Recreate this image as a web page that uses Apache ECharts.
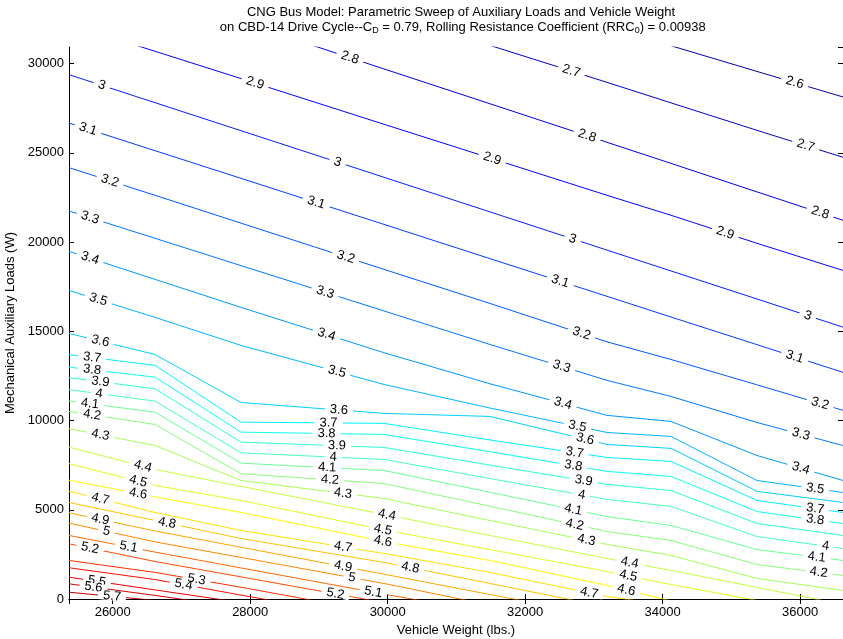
<!DOCTYPE html>
<html lang="en">
<head>
<meta charset="UTF-8">
<title>CNG Bus Model - contour</title>
<style>
    html, body { margin: 0; padding: 0; background: #fff; }
    #chart { width: 843px; height: 639px; }
</style>
</head>
<body>
<div id="chart"></div>
<script src="https://cdn.jsdelivr.net/npm/echarts@6/dist/echarts.min.js"></script>
<script>
    // vehicle weights (lbs) of the grid columns, the contours bend on them
    var weights = [25364, 26615, 27866, 29946, 31488, 33190, 34121, 35372, 36623];

    // contour levels (fuel economy)
    var levels = [2.6, 2.7, 2.8, 2.9, 3, 3.1, 3.2, 3.3, 3.4, 3.5, 3.6, 3.7, 3.8, 3.9, 4,
                  4.1, 4.2, 4.3, 4.4, 4.5, 4.6, 4.7, 4.8, 4.9, 5, 5.1, 5.2, 5.3, 5.4, 5.5, 5.6, 5.7];

    // aux load (W) where each level crosses each weight column
    var levelLoads = [
        [41060, 39600, 38200, 35790, 34020, 32070, 31000, 29560, 28130],
        [38480, 36970, 35440, 32900, 31020, 28950, 27800, 26260, 24750],
        [35510, 33940, 32350, 29700, 27750, 25590, 24410, 22810, 21220],
        [32220, 30690, 29160, 26600, 24710, 22620, 21500, 19930, 18410],
        [29380, 27810, 26240, 23630, 21690, 19550, 18380, 16810, 15230],
        [26670, 25120, 23570, 20990, 19070, 16960, 15800, 14250, 12700],
        [24170, 22620, 21060, 18470, 16560, 14410, 13420, 12000, 10570],
        [21740, 20210, 18680, 16140, 14260, 12250, 11350, 9890, 8600],
        [19480, 17910, 16340, 13800, 12060, 10290, 9950, 8040, 6640],
        [17290, 15780, 14210, 12020, 10700, 9330, 9110, 6640, 5970],
        [14880, 13700, 11010, 10400, 10230, 8660, 8440, 6030, 5410],
        [13690, 13090, 9910, 9840, 8910, 7930, 7710, 5520, 4850],
        [12990, 12430, 9350, 9220, 8250, 7150, 6870, 4900, 4230],
        [12400, 11780, 8790, 8490, 7500, 6420, 6080, 4230, 3560],
        [11730, 11090, 8190, 7820, 6750, 5580, 5190, 3500, 2830],
        [11090, 10470, 7610, 7200, 5980, 4620, 4120, 2770, 2160],
        [10510, 9780, 7020, 6470, 5200, 3780, 3280, 1930, 1320],
        [9540, 8600, 6640, 5630, 4400, 3060, 2440, 1150, 480],
        [8510, 7260, 6310, 4740, 3560, 2270, 1600, 650, -310],
        [7580, 6360, 5520, 3870, 2770, 1540, 810, -80, -1040],
        [6660, 5720, 4850, 3220, 2160, 760, -110, -980, -1880],
        [6040, 4850, 3840, 2550, 1490, 140, -360, -1210, -2100],
        [5410, 4400, 3390, 2050, 870, -450, -1210, -2160, -3110],
        [4830, 3810, 2900, 1390, 250, -980, -1770, -2720, -3670],
        [4250, 3200, 2330, 870, -340, -1650, null, null, null],
        [3560, 2630, 1740, 270, -760, null, null, null, null],
        [3090, 2100, 1240, -200, null, null, null, null, null],
        [2160, 1490, 660, -810, null, null, null, null, null],
        [1750, 1090, 220, -1210, null, null, null, null, null],
        [1220, 510, -200, null, null, null, null, null, null],
        [850, 200, -480, null, null, null, null, null, null],
        [380, -80, null, null, null, null, null, null, null]
    ];

    // weights where the inline level labels sit
    var labelWeights = [
        [35920],
        [32670, 36080],
        [29450, 32900, 36290],
        [28070, 31520, 34910],
        [25840, 29270, 32690, 36110],
        [25640, 28960, 32510, 35920],
        [25960, 29390, 32820, 36290],
        [25670, 29090, 32530, 36010],
        [25670, 29110, 32550, 36010],
        [25790, 29260, 32760, 36220],
        [25820, 29290, 32870],
        [25700, 29140, 32720, 36220],
        [25700, 29110, 32700, 36220],
        [25820, 29260, 32850],
        [25800, 29210, 32820, 36370],
        [25670, 29120, 32700, 36240],
        [25700, 29160, 32720, 36270],
        [25820, 29350, 32890],
        [26440, 29990, 33520],
        [26370, 29930, 33500],
        [26370, 29930, 33470],
        [25820, 29350, 32930],
        [26790, 30330],
        [25820, 29350],
        [25910, 29480],
        [26230, 29790],
        [25670, 29240],
        [27220],
        [27030],
        [25770],
        [25720],
        [25990]
    ];

    var FONT = '"Liberation Sans", Arial, Helvetica, sans-serif';

    // jet colormap
    function jet(level) {
        var t = 0.625 + (level - 4.6) * 0.294;
        function c(v) { return Math.round(255 * Math.max(0, Math.min(1, v))); }
        var r = c(1.5 - Math.abs(4 * t - 3));
        var g = c(1.5 - Math.abs(4 * t - 2));
        var b = c(1.5 - Math.abs(4 * t - 1));
        return 'rgb(' + r + ',' + g + ',' + b + ')';
    }

    function segIndex(w) {
        for (var k = 0; k < weights.length - 2; k++) {
            if (w <= weights[k + 1]) return k;
        }
        return weights.length - 2;
    }

    function loadAt(row, w) {
        var k = segIndex(w);
        var a = row[k], b = row[k + 1];
        return a + (b - a) * (w - weights[k]) / (weights[k + 1] - weights[k]);
    }

    var series = [];
    levels.forEach(function (lv, i) {
        var pts = [];
        for (var k = 0; k < weights.length; k++) {
            if (levelLoads[i][k] == null) break;
            pts.push([weights[k], levelLoads[i][k]]);
        }
        series.push({
            type: 'line',
            data: pts,
            symbol: 'none',
            silent: true,
            clip: true,
            lineStyle: { color: jet(lv), width: 1 },
            z: 2
        });
    });

    var labelData = [];
    levels.forEach(function (lv, i) {
        labelWeights[i].forEach(function (w) {
            labelData.push([w, loadAt(levelLoads[i], w), i]);
        });
    });

    // inline labels: white box cuts a gap in their own line
    series.push({
        type: 'custom',
        data: labelData,
        silent: true,
        z: 10,
        encode: { x: 0, y: 1 },
        renderItem: function (params, api) {
            var i = api.value(2);
            var w = api.value(0);
            var p = api.coord([w, api.value(1)]);
            var k = segIndex(w);
            var a = api.coord([weights[k], levelLoads[i][k]]);
            var b = api.coord([weights[k + 1], levelLoads[i][k + 1]]);
            var ang = Math.atan2(b[1] - a[1], b[0] - a[0]);
            return {
                type: 'text',
                x: p[0],
                y: p[1],
                rotation: -ang,
                style: {
                    text: String(levels[i]),
                    fill: '#000',
                    font: '13px ' + FONT,
                    lineHeight: 8,
                    align: 'center',
                    verticalAlign: 'middle',
                    backgroundColor: '#fff',
                    padding: [0, 5]
                }
            };
        }
    });

    var axisCommon = {
        type: 'value',
        axisLine: { show: true, lineStyle: { color: '#000', width: 1 } },
        axisTick: { show: true, inside: true, length: 5, lineStyle: { color: '#000' } },
        splitLine: { show: false }
    };

    var chart = echarts.init(document.getElementById('chart'));
    var option = {
        animation: false,
        backgroundColor: '#fff',
        title: {
            left: 456,
            top: 0,
            textAlign: 'center',
            text: '{n|CNG Bus Model: Parametric Sweep of Auxiliary Loads and Vehicle Weight}\n' +
                  '{n| on CBD-14 Drive Cycle--C}{s|D}{n| = 0.79, Rolling Resistance Coefficient (RRC}{s|0}{n|) = 0.00938}',
            textStyle: {
                fontWeight: 'normal',
                rich: {
                    n: { fontSize: 13, fontFamily: FONT, fontWeight: 'normal', color: '#000', lineHeight: 15 },
                    s: { fontSize: 9, fontFamily: FONT, fontWeight: 'normal', color: '#000', lineHeight: 9, verticalAlign: 'bottom' }
                }
            }
        },
        grid: { left: 69, right: 0, top: 47, bottom: 40, containLabel: false, outerBoundsMode: 'none' },
        xAxis: [
            Object.assign({}, axisCommon, {
                position: 'bottom',
                min: 25364,
                max: 36623,
                name: 'Vehicle Weight (lbs.)',
                nameLocation: 'middle',
                nameGap: 22,
                nameTextStyle: { color: '#000', fontSize: 13, fontFamily: FONT },
                axisLabel: {
                    color: '#000', fontSize: 13, fontFamily: FONT, margin: 7,
                    showMinLabel: false, showMaxLabel: false,
                    formatter: function (v) { return String(v); }
                }
            }),
            Object.assign({}, axisCommon, {
                position: 'top',
                min: 25364,
                max: 36623,
                axisLabel: { show: false }
            })
        ],
        yAxis: [
            Object.assign({}, axisCommon, {
                position: 'left',
                min: 0,
                max: 30930,
                interval: 5000,
                name: 'Mechanical Auxiliary Loads (W)',
                nameLocation: 'middle',
                nameGap: 48,
                nameTextStyle: { color: '#000', fontSize: 13, fontFamily: FONT },
                axisLabel: {
                    color: '#000', fontSize: 13, fontFamily: FONT, margin: 5,
                    showMaxLabel: false,
                    formatter: function (v) { return String(v); }
                }
            }),
            Object.assign({}, axisCommon, {
                position: 'right',
                min: 0,
                max: 30930,
                interval: 5000,
                axisLabel: { show: false }
            })
        ],
        series: series
    };
    chart.setOption(option);
</script>
</body>
</html>
